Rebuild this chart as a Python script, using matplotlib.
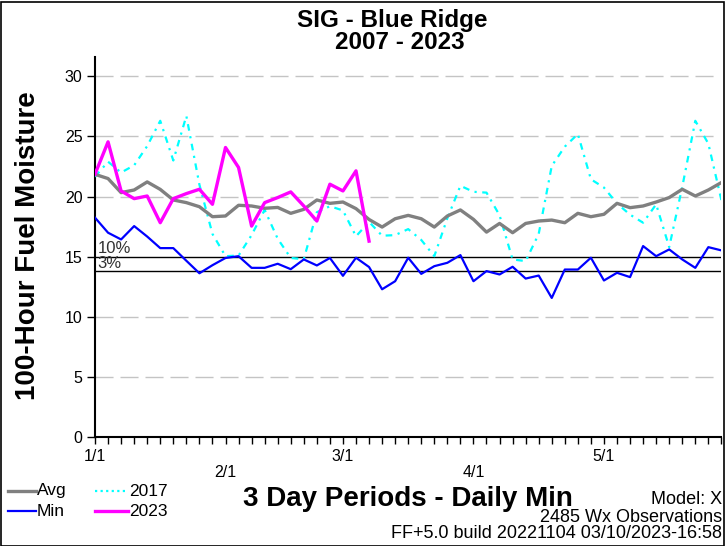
import matplotlib
matplotlib.use("Agg")
import matplotlib.pyplot as plt
from matplotlib.lines import Line2D
from matplotlib.patches import Rectangle

plt.rcParams['font.family'] = ['Liberation Sans', 'DejaVu Sans']

# ---- data (3-day periods starting 1/1) ----
avg = [21.85, 21.5, 20.33, 20.55, 21.22, 20.6, 19.72, 19.5, 19.16, 18.33,
       18.39, 19.28, 19.22, 19.03, 19.1, 18.61, 18.94, 19.72, 19.44, 19.55,
       19.0, 18.1, 17.47, 18.16, 18.44, 18.16, 17.47, 18.39, 18.89, 18.11,
       17.05, 17.77, 17.0, 17.77, 17.97, 18.05, 17.83, 18.61, 18.33, 18.53,
       19.44, 19.08, 19.22, 19.55, 19.92, 20.61, 20.05, 20.55, 21.17]
minv = [18.25, 17.0, 16.44, 17.55, 16.68, 15.72, 15.72, 14.67, 13.63, 14.3,
        14.9, 15.05, 14.08, 14.08, 14.42, 13.97, 14.78, 14.28, 14.9, 13.42,
        14.92, 14.15, 12.3, 12.97, 14.92, 13.58, 14.22, 14.5, 15.14, 12.97,
        13.81, 13.53, 14.17, 13.19, 13.44, 11.58, 13.94, 13.94, 14.92, 13.03,
        13.67, 13.31, 15.89, 15.05, 15.61, 14.78, 14.08, 15.8, 15.53]
y2017 = [21.65, 22.9, 22.0, 22.6, 24.2, 26.3, 23.0, 26.7, 21.0, 16.9,
         15.05, 15.1, 16.8, 18.9, 16.5, 14.9, 14.8, 18.7, 19.2, 18.85,
         16.7, 17.9, 16.75, 16.8, 17.3, 16.4, 15.05, 18.2, 20.9, 20.4,
         20.33, 18.45, 14.78, 14.64, 16.9, 22.55, 24.15, 25.2, 21.44, 20.75,
         19.43, 18.5, 17.83, 19.36, 15.8, 20.8, 26.3, 24.4, 19.7]
y2023 = [21.86, 24.55, 20.47, 19.83, 20.05, 17.83, 19.83, 20.25, 20.61, 19.36,
         24.08, 22.42, 17.55, 19.5, 19.92, 20.39, 19.22, 17.97, 21.03, 20.47,
         22.14, 16.3]
pct10 = 15.0
pct3 = 13.8
month_labels = ['1/1', '2/1', '3/1', '4/1', '5/1']
month_periods = [0, 10, 19, 29, 39]
yticks = [0, 5, 10, 15, 20, 25, 30]
grid_levels = [5, 10, 20, 25, 30]

W, H = 726, 546
fig = plt.figure(figsize=(W / 100, H / 100), dpi=100)

def fx(px):
    return px / W

def fy(py):
    return 1 - py / H

ax = fig.add_axes([fx(95), fy(437.3), fx(721.4) - fx(95), fy(57) - fy(437.3)])
ax.set_xlim(0, 48)
ax.set_ylim(0, 31.6)

x_avg = list(range(len(avg)))
x_min = list(range(len(minv)))
x17 = list(range(len(y2017)))
x23 = list(range(len(y2023)))

# grid
ax.hlines(grid_levels, 0, 47.4, colors='#c4c4c4', linewidth=1.0,
          linestyles=(0, (13, 5)), zorder=1)
ax.hlines([pct10, pct3], 0, 48, colors='black', linewidth=1.0, zorder=2)
ax.text(0.2, pct10 + 0.1, '10%', fontsize=12, color='#333333', va='bottom', ha='left')
ax.text(0.2, pct3 + 0.05, '3%', fontsize=12, color='#333333', va='bottom', ha='left')

ax.plot(x17, y2017, color='#00ffff', linewidth=1.6, linestyle=(0, (3, 2.5, 1, 2.5)), zorder=3)
ax.plot(x_avg, avg, color='#808080', linewidth=2.4, zorder=4)
ax.plot(x_min, minv, color='#0000ff', linewidth=1.6, zorder=4)
ax.plot(x23, y2023, color='#ff00ff', linewidth=2.4, zorder=5)

for s in ['top', 'right']:
    ax.spines[s].set_visible(False)
ax.spines['left'].set_linewidth(1.5)
ax.spines['bottom'].set_linewidth(1.5)

ax.set_yticks(yticks)
ax.set_yticklabels([str(v) for v in yticks], fontsize=11.5)
ax.tick_params(axis='y', direction='out', length=6, width=1, pad=3)

ax.set_xticks(range(0, 49))
ax.set_xticklabels([''] * 49)
ax.tick_params(axis='x', which='major', direction='out', length=5, width=1)
ax.set_xticks(month_periods, minor=True)
ax.tick_params(axis='x', which='minor', direction='out', length=10, width=1)

trans = ax.get_xaxis_transform()
axh = 437.3 - 57
for i, (p, lab) in enumerate(zip(month_periods, month_labels)):
    off = 19 if i % 2 == 0 else 35
    ax.text(p, -off / axh, lab, transform=trans, ha='center', va='center', fontsize=11.5)

fig.text(fx(28), fy(246), '100-Hour Fuel Moisture', rotation=90, fontsize=20,
         fontweight='bold', ha='center', va='center')

# titles
fig.text(fx(392), fy(20), 'SIG - Blue Ridge', fontsize=17.5, fontweight='bold', ha='center', va='center')
fig.text(fx(400), fy(43), '2007 - 2023', fontsize=17.5, fontweight='bold', ha='center', va='center')
fig.text(fx(408), fy(499), '3 Day Periods - Daily Min', fontsize=20, fontweight='bold', ha='center', va='center')

# right-side info
fig.text(fx(722), fy(499), 'Model: X', fontsize=13, ha='right', va='center')
fig.text(fx(722), fy(517), '2485 Wx Observations', fontsize=13, ha='right', va='center')
fig.text(fx(722), fy(533), 'FF+5.0 build 20221104 03/10/2023-16:58', fontsize=13, ha='right', va='center')

# legend
leg = [
    (8, 36, 491, '#808080', 2.4, '-', 'Avg'),
    (8, 36, 511, '#0000ff', 1.6, '-', 'Min'),
    (95, 128, 491, '#00ffff', 1.6, (0, (1, 1.5)), '2017'),
    (95, 128, 511, '#ff00ff', 2.4, '-', '2023'),
]
for x0, x1, yy, col, lw, ls, lab in leg:
    fig.add_artist(Line2D([fx(x0), fx(x1)], [fy(yy), fy(yy)], transform=fig.transFigure,
                          color=col, linewidth=lw, linestyle=ls))
    fig.text(fx(x1 + 1), fy(yy), lab, fontsize=12.5, ha='left', va='center')

fig.add_artist(Rectangle((0.5 / W, 0.5 / H), 1 - 2.5 / W, 1 - 2.5 / H, transform=fig.transFigure,
                         fill=False, edgecolor='black', linewidth=1.2))

fig.savefig('out.png', dpi=100)
